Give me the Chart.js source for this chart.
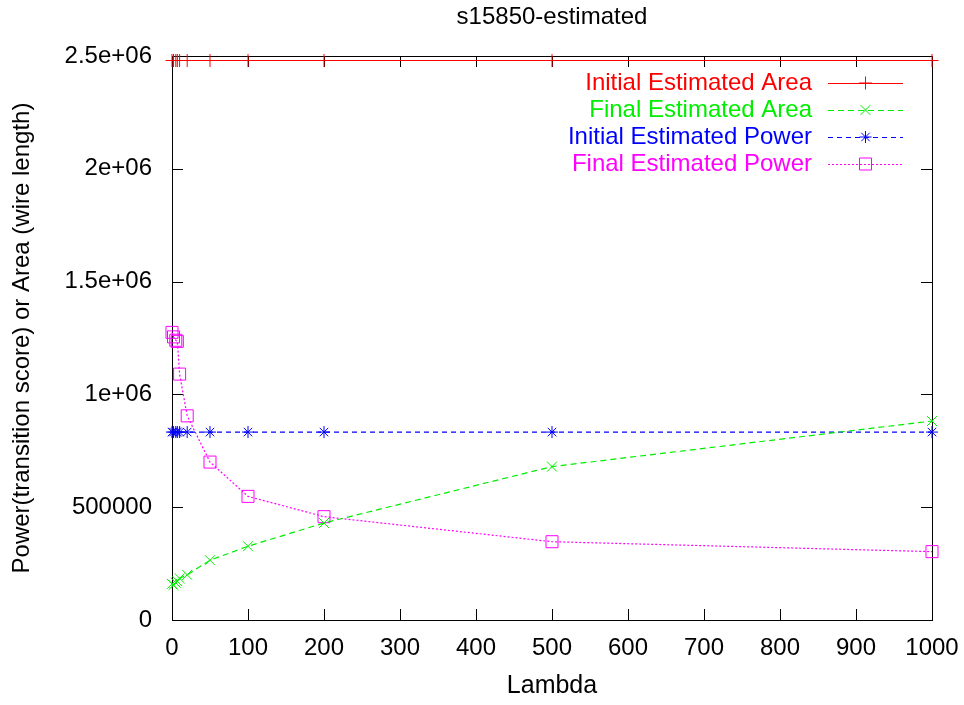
<!DOCTYPE html>
<html>
<head>
<meta charset="utf-8">
<script src="https://cdn.jsdelivr.net/npm/chart.js@4"></script>
<style>
  body { margin: 0; background: #fff; }
  #wrap { width: 964px; height: 705px; position: relative; }
</style>
</head>
<body>
<div id="wrap"><canvas id="chart"></canvas></div>
<script>
// données
const lambdas = [0, 2, 5, 7, 10, 20, 50, 100, 200, 500, 1000];
const initialArea = [2480000, 2480000, 2480000, 2480000, 2480000, 2480000, 2480000, 2480000, 2480000, 2480000, 2480000];
const finalArea = [160000, 155000, 165000, 172000, 185000, 200000, 265000, 327000, 430000, 680000, 882000];
const initialPower = [833000, 833000, 833000, 833000, 833000, 833000, 833000, 833000, 833000, 833000, 833000];
const finalPower = [1275000, 1255000, 1240000, 1235000, 1090000, 905000, 700000, 548000, 458000, 347000, 303000];

const seriesNames = ['Initial Estimated Area', 'Final Estimated Area', 'Initial Estimated Power', 'Final Estimated Power'];
const xTickValues = [0, 100, 200, 300, 400, 500, 600, 700, 800, 900, 1000];
const xTickLabels = ['0', '100', '200', '300', '400', '500', '600', '700', '800', '900', '1000'];
const yTickValues = [0, 500000, 1000000, 1500000, 2000000, 2500000];
const yTickLabels = ['0', '500000', '1e+06', '1.5e+06', '2e+06', '2.5e+06'];
const chartTitle = 's15850-estimated';
const xTitle = 'Lambda';
const yTitle = 'Power(transition score) or Area (wire length)';

const FONT = 'Liberation Sans, Arial, sans-serif';

const toPoints = arr => arr.map((v, i) => ({ x: lambdas[i], y: v }));

const datasets = [
  { label: seriesNames[0], data: toPoints(initialArea), borderColor: '#ff0000', pointStyle: 'cross', pointRadius: 6.5, borderDash: [] },
  { label: seriesNames[1], data: toPoints(finalArea), borderColor: '#00ee00', pointStyle: 'crossRot', pointRadius: 7, borderDash: [6, 4] },
  { label: seriesNames[2], data: toPoints(initialPower), borderColor: '#0000ff', pointStyle: 'star', pointRadius: 6, borderDash: [5, 4] },
  { label: seriesNames[3], data: toPoints(finalPower), borderColor: '#ff00ff', pointStyle: 'rect', pointRadius: 8.5, borderDash: [2, 2] }
].map(d => Object.assign(d, {
  backgroundColor: 'rgba(0,0,0,0)',
  pointBorderColor: d.borderColor,
  pointBackgroundColor: 'rgba(0,0,0,0)',
  pointBorderWidth: 1,
  borderWidth: 1.2,
  tension: 0,
  fill: false,
  clip: false
}));

// cadre + graduations vers l'intérieur (style gnuplot)
const framePlugin = {
  id: 'frame',
  beforeDatasetsDraw(chart) {
    const { ctx, chartArea: a, scales } = chart;
    const len = 11;
    ctx.save();
    ctx.strokeStyle = '#000';
    ctx.lineWidth = 1;
    ctx.strokeRect(Math.round(a.left) + 0.5, Math.round(a.top) + 0.5, Math.round(a.right - a.left), Math.round(a.bottom - a.top));
    ctx.beginPath();
    xTickValues.forEach(v => {
      const x = Math.round(scales.x.getPixelForValue(v)) + 0.5;
      ctx.moveTo(x, a.bottom); ctx.lineTo(x, a.bottom - len);
      ctx.moveTo(x, a.top); ctx.lineTo(x, a.top + len);
    });
    yTickValues.forEach(v => {
      const y = Math.round(scales.y.getPixelForValue(v)) + 0.5;
      ctx.moveTo(a.left, y); ctx.lineTo(a.left + len, y);
      ctx.moveTo(a.right, y); ctx.lineTo(a.right - len, y);
    });
    ctx.stroke();

    // titre et titre de l'axe x, centrés sur la zone du graphique
    const cx = (a.left + a.right) / 2;
    ctx.fillStyle = '#000';
    ctx.textAlign = 'center';
    ctx.textBaseline = 'middle';
    ctx.font = '24px ' + FONT;
    ctx.fillText(chartTitle, cx, 17);
    ctx.font = '25px ' + FONT;
    ctx.fillText(xTitle, cx, 686);
    ctx.restore();
  }
};

// légende à la gnuplot : texte aligné à droite puis échantillon
const keyPlugin = {
  id: 'gnuKey',
  afterDatasetsDraw(chart) {
    const { ctx } = chart;
    const textRight = 812, x0 = 828, x1 = 903, top = 83, step = 27;
    ctx.save();
    ctx.font = '24px ' + FONT;
    ctx.textAlign = 'right';
    ctx.textBaseline = 'middle';
    chart.data.datasets.forEach((ds, i) => {
      const y = top + i * step;
      ctx.fillStyle = ds.borderColor;
      ctx.fillText(ds.label, textRight, y);
      ctx.strokeStyle = ds.borderColor;
      ctx.lineWidth = 1.2;
      ctx.setLineDash(ds.borderDash);
      ctx.beginPath();
      ctx.moveTo(x0, Math.round(y) + 0.5);
      ctx.lineTo(x1, Math.round(y) + 0.5);
      ctx.stroke();
      ctx.setLineDash([]);
      ctx.fillStyle = 'rgba(0,0,0,0)';
      ctx.lineWidth = 1;
      Chart.helpers.drawPoint(ctx, {
        pointStyle: ds.pointStyle,
        radius: ds.pointRadius,
        rotation: 0,
        borderWidth: 1
      }, (x0 + x1) / 2, y);
    });
    ctx.restore();
  }
};

new Chart(document.getElementById('chart'), {
  type: 'line',
  data: { datasets },
  plugins: [framePlugin, keyPlugin],
  options: {
    responsive: true,
    maintainAspectRatio: false,
    animation: false,
    layout: { padding: { left: 0, right: 32, top: 56, bottom: 0 } },
    plugins: {
      legend: { display: false },
      tooltip: { enabled: false },
      title: { display: false }
    },
    scales: {
      x: {
        type: 'linear',
        min: 0,
        max: 1000,
        afterBuildTicks: s => { s.ticks = xTickValues.map(v => ({ value: v })); },
        afterFit: s => { s.height = 85; s.paddingLeft = 0; s.paddingRight = 0; },
        grid: { display: false, drawTicks: false },
        border: { display: false },
        ticks: {
          color: '#000',
          font: { family: FONT, size: 24 },
          padding: 14,
          maxRotation: 0,
          autoSkip: false,
          callback: v => xTickLabels[xTickValues.indexOf(v)]
        },
        title: { display: false }
      },
      y: {
        type: 'linear',
        min: 0,
        max: 2500000,
        afterBuildTicks: s => { s.ticks = yTickValues.map(v => ({ value: v })); },
        afterFit: s => { s.width = 172; s.paddingTop = 0; s.paddingBottom = 0; },
        grid: { display: false, drawTicks: false },
        border: { display: false },
        ticks: {
          color: '#000',
          font: { family: FONT, size: 24 },
          padding: 20,
          autoSkip: false,
          callback: v => yTickLabels[yTickValues.indexOf(v)]
        },
        title: { display: true, text: yTitle, color: '#000', font: { family: FONT, size: 24 }, padding: { top: 8, bottom: 0 } }
      }
    }
  }
});
</script>
</body>
</html>
